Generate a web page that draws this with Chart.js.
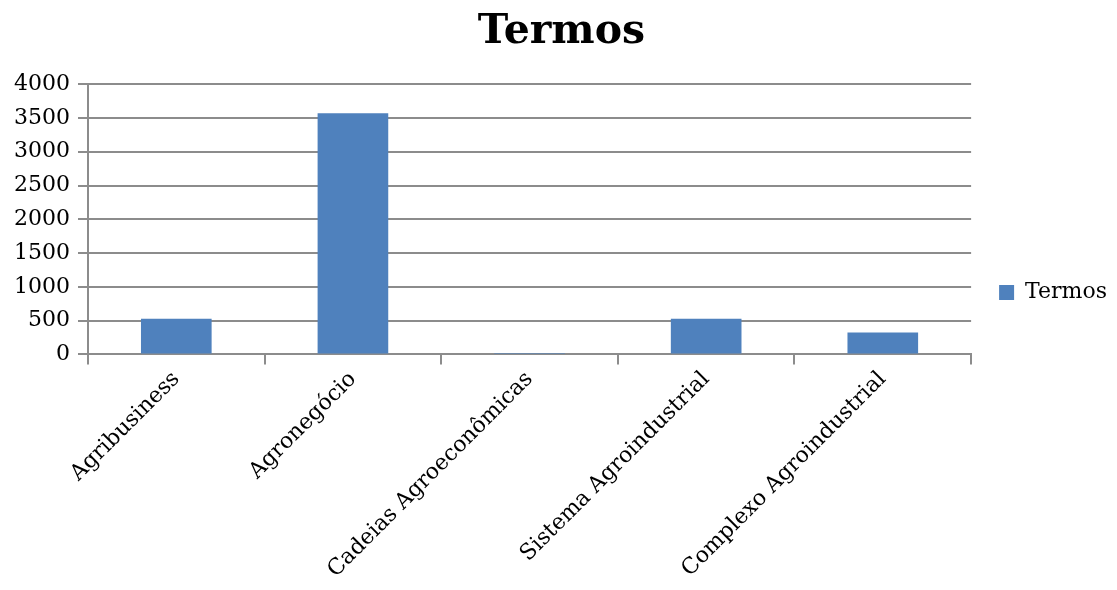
<!DOCTYPE html>
<html lang="pt">
<head>
  <meta charset="UTF-8" />
  <title>Termos</title>
  <script src="https://cdn.jsdelivr.net/npm/chart.js"></script>
  <style>
    body { margin: 0; background: #fff; }
    #wrap { width: 1117px; height: 590px; }
  </style>
</head>
<body>
<div id="wrap"><canvas id="termsChart"></canvas></div>
<script>
  const categories = ["Agribusiness", "Agronegócio", "Cadeias Agroeconômicas", "Sistema Agroindustrial", "Complexo Agroindustrial"];
  const termCounts = [530, 3570, 20, 530, 325];
  const seriesName = "Termos";

  const serif = "'DejaVu Serif', serif";
  const gridGray = "#8c8c8c";

  new Chart(document.getElementById("termsChart"), {
    type: "bar",
    data: {
      labels: categories,
      datasets: [{
        label: seriesName,
        data: termCounts,
        backgroundColor: "#4f81bd",
        barPercentage: 0.4,
        categoryPercentage: 1.0
      }]
    },
    options: {
      responsive: true,
      maintainAspectRatio: false,
      animation: false,
      layout: { padding: { left: 6, right: 0, bottom: 5, top: 0 } },
      plugins: {
        title: {
          display: true,
          text: "Termos",
          color: "#000",
          font: { family: serif, size: 41, weight: "bold" },
          padding: { top: 8, bottom: 27 }
        },
        legend: {
          position: "right",
          labels: {
            color: "#000",
            font: { family: serif, size: 22 },
            boxWidth: 15,
            boxHeight: 15,
            padding: 28
          }
        },
        tooltip: { enabled: false }
      },
      scales: {
        x: {
          grid: {
            offset: true,
            drawOnChartArea: false,
            drawTicks: true,
            tickLength: 10,
            color: gridGray,
            lineWidth: 2
          },
          border: { color: gridGray, width: 2 },
          ticks: {
            color: "#000",
            font: { family: serif, size: 22 },
            minRotation: 45,
            maxRotation: 45,
            padding: 2
          }
        },
        y: {
          min: 0,
          max: 4000,
          ticks: {
            stepSize: 500,
            color: "#000",
            font: { family: serif, size: 22 },
            padding: 8,
            callback: v => String(v)
          },
          grid: {
            color: gridGray,
            lineWidth: 2,
            tickLength: 10
          },
          border: { color: gridGray, width: 2 }
        }
      }
    }
  });
</script>
</body>
</html>
